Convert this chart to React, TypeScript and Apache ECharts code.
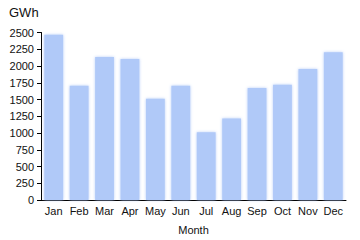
import React, { useEffect, useRef } from "react";
import * as echarts from "echarts";

const months = ["Jan", "Feb", "Mar", "Apr", "May", "Jun", "Jul", "Aug", "Sep", "Oct", "Nov", "Dec"];
const energy = [2465, 1705, 2135, 2105, 1510, 1705, 1010, 1215, 1670, 1720, 1955, 2205];
const yTicks = { min: 0, max: 2500, interval: 250 };

export default function App() {
  const ref = useRef<HTMLDivElement>(null);
  useEffect(() => {
    if (!ref.current) return;
    const chart = echarts.init(ref.current, undefined, { renderer: "svg" });
    const font = "Liberation Sans";
    chart.setOption({
      animation: false,
      title: {
        text: "GWh",
        left: 4,
        top: 1,
        textStyle: { fontFamily: font, fontSize: 13, fontWeight: "normal", color: "#111" },
      },
      grid: { left: 41, right: 14, top: 32.5, bottom: 40 },
      xAxis: {
        type: "category",
        data: months,
        name: "Month",
        nameLocation: "middle",
        nameGap: 24,
        nameTextStyle: { fontFamily: font, fontSize: 11, color: "#111" },
        axisLine: { lineStyle: { color: "#000", width: 1 } },
        axisTick: { show: false },
        axisLabel: { interval: 0, fontFamily: font, fontSize: 11, color: "#111", margin: 5 },
      },
      yAxis: {
        type: "value",
        min: yTicks.min,
        max: yTicks.max,
        interval: yTicks.interval,
        axisLine: { show: true, lineStyle: { color: "#000", width: 1 } },
        axisTick: { show: true, length: 4, lineStyle: { color: "#000" } },
        splitLine: { show: false },
        axisLabel: {
          fontFamily: font,
          fontSize: 11,
          color: "#111",
          margin: 7,
          formatter: (v: number) => String(v),
        },
      },
      series: [
        {
          type: "bar",
          data: energy,
          barWidth: "74%",
          itemStyle: {
            color: "#b0c9f8",
            shadowBlur: 3,
            shadowColor: "rgba(176,201,248,0.9)",
          },
        },
      ],
    });
    return () => chart.dispose();
  }, []);
  return <div ref={ref} style={{ width: 360, height: 240, position: "absolute", left: 0, top: 0 }} />;
}
